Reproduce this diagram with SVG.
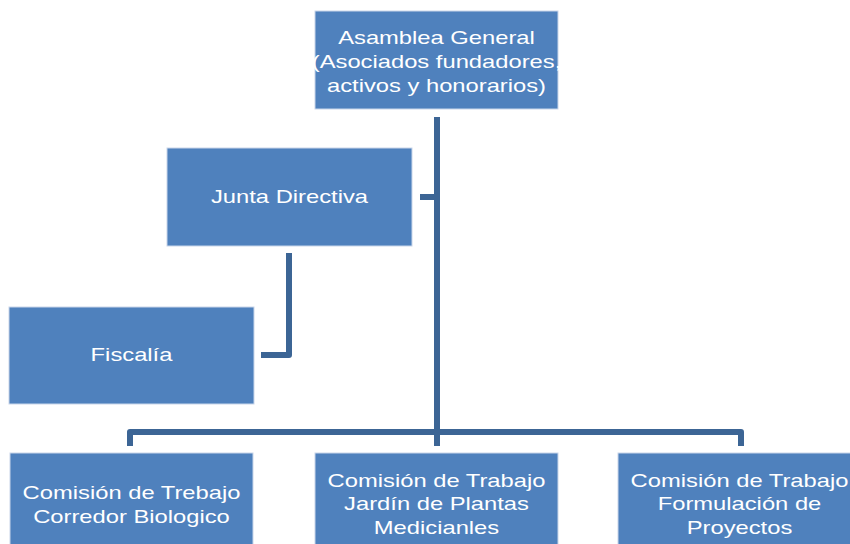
<svg xmlns="http://www.w3.org/2000/svg" width="850" height="544" viewBox="0 0 850 544">
<style>
.box{fill:#4F81BD;stroke:#C9D6EA;stroke-width:1}
.t{font-family:"Liberation Sans",Arial,sans-serif;font-size:19px;fill:#FFFFFF;text-anchor:middle}
.c{fill:none;stroke:#3C6595;stroke-width:6;stroke-linejoin:round}
</style>
<rect width="850" height="544" fill="#FFFFFF"/>
<g id="connectors">
<path class="c" d="M437 117 V432"/>
<path class="c" d="M420 197 H437"/>
<path class="c" d="M130 446 V432 H741 V446"/>
<path class="c" d="M437 432 V446"/>
<path class="c" d="M289 253 V355 H261"/>
</g>
<g id="asamblea">
<rect class="box" x="315" y="11" width="243" height="98"/>
<text class="t" transform="translate(436.5,44) scale(1.25,1)">Asamblea General</text>
<text class="t" transform="translate(436.5,68) scale(1.25,1)">(Asociados fundadores,</text>
<text class="t" transform="translate(436.5,92) scale(1.25,1)">activos y honorarios)</text>
</g>
<g id="junta">
<rect class="box" x="167" y="148" width="245" height="98"/>
<text class="t" transform="translate(289.5,203) scale(1.25,1)">Junta Directiva</text>
</g>
<g id="fiscalia">
<rect class="box" x="9" y="307" width="245" height="97"/>
<text class="t" transform="translate(131.5,361) scale(1.25,1)">Fiscalía</text>
</g>
<g id="comision1">
<rect class="box" x="10" y="453" width="243" height="100"/>
<text class="t" transform="translate(131.5,499) scale(1.25,1)">Comisión de Trebajo</text>
<text class="t" transform="translate(131.5,523) scale(1.25,1)">Corredor Biologico</text>
</g>
<g id="comision2">
<rect class="box" x="315" y="453" width="243" height="100"/>
<text class="t" transform="translate(436.5,487) scale(1.25,1)">Comisión de Trabajo</text>
<text class="t" transform="translate(436.5,510) scale(1.25,1)">Jardín de Plantas</text>
<text class="t" transform="translate(436.5,534) scale(1.25,1)">Medicianles</text>
</g>
<g id="comision3">
<rect class="box" x="618" y="453" width="243" height="100"/>
<text class="t" transform="translate(739.5,487) scale(1.25,1)">Comisión de Trabajo</text>
<text class="t" transform="translate(739.5,510) scale(1.25,1)">Formulación de</text>
<text class="t" transform="translate(739.5,534) scale(1.25,1)">Proyectos</text>
</g>
</svg>
